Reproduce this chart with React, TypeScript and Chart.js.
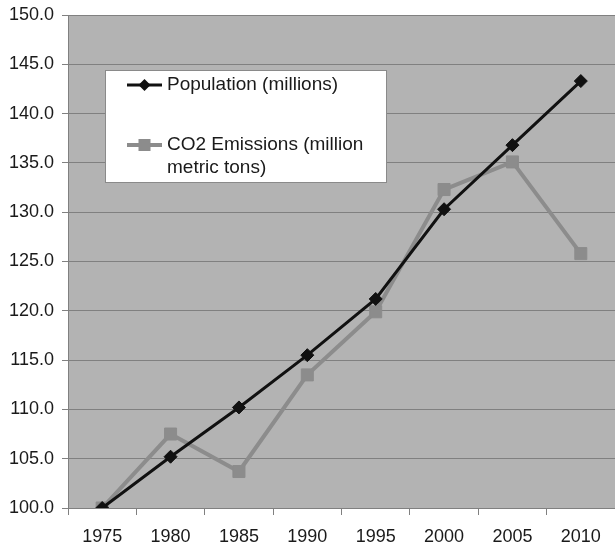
import React, { useEffect, useRef } from "react";
import { Chart, registerables } from "chart.js";

Chart.register(...registerables);

const years = ["1975", "1980", "1985", "1990", "1995", "2000", "2005", "2010"];
const population = [100.0, 105.2, 110.2, 115.5, 121.2, 130.3, 136.8, 143.3];
const co2Emissions = [100.0, 107.5, 103.7, 113.5, 119.9, 132.3, 135.1, 125.8];
const popLabel = "Population (millions)";
const co2LabelLines = ["CO2 Emissions (million", "metric tons)"];

const FONT = "'Liberation Sans', Arial, sans-serif";
const TEXT = "#1a1a1a";
const PLOT_BG = "#b3b3b3";
const GRID = "#808080";
const POP_COLOR = "#111111";
const CO2_COLOR = "#8c8c8c";

// Fills the plotting area with the grey backdrop
const plotBackground = {
  id: "plotBackground",
  beforeDraw(chart: any) {
    const { ctx, chartArea } = chart;
    ctx.save();
    ctx.fillStyle = PLOT_BG;
    ctx.fillRect(chartArea.left, chartArea.top, chartArea.right - chartArea.left, chartArea.bottom - chartArea.top);
    ctx.restore();
  },
};

// Boxed legend sitting inside the plot area
const insetLegend = {
  id: "insetLegend",
  afterDraw(chart: any) {
    const { ctx, chartArea } = chart;
    const x = chartArea.left + 37;
    const y = chartArea.top + 55;
    const w = 282;
    const h = 113;
    ctx.save();
    ctx.fillStyle = "#ffffff";
    ctx.fillRect(x, y, w, h);
    ctx.strokeStyle = "#8a8a8a";
    ctx.lineWidth = 1;
    ctx.strokeRect(x + 0.5, y + 0.5, w - 1, h - 1);

    const sx0 = x + 22;
    const sx1 = x + 57;
    const sxm = (sx0 + sx1) / 2;
    const tx = x + 62;

    // population entry
    const y1 = y + 15;
    ctx.strokeStyle = POP_COLOR;
    ctx.lineWidth = 3;
    ctx.beginPath();
    ctx.moveTo(sx0, y1);
    ctx.lineTo(sx1, y1);
    ctx.stroke();
    ctx.fillStyle = POP_COLOR;
    ctx.beginPath();
    ctx.moveTo(sxm, y1 - 6);
    ctx.lineTo(sxm + 6, y1);
    ctx.lineTo(sxm, y1 + 6);
    ctx.lineTo(sxm - 6, y1);
    ctx.closePath();
    ctx.fill();

    // CO2 entry
    const y2 = y + 75;
    ctx.strokeStyle = CO2_COLOR;
    ctx.lineWidth = 4;
    ctx.beginPath();
    ctx.moveTo(sx0, y2);
    ctx.lineTo(sx1, y2);
    ctx.stroke();
    ctx.fillStyle = CO2_COLOR;
    ctx.fillRect(sxm - 6, y2 - 6, 12, 12);

    ctx.fillStyle = TEXT;
    ctx.font = `19px ${FONT}`;
    ctx.textBaseline = "middle";
    ctx.textAlign = "left";
    ctx.fillText(popLabel, tx, y1);
    ctx.fillText(co2LabelLines[0], tx, y2);
    ctx.fillText(co2LabelLines[1], tx, y2 + 23);
    ctx.restore();
  },
};

export default function App() {
  const canvasRef = useRef<HTMLCanvasElement | null>(null);

  useEffect(() => {
    document.body.style.margin = "0";
    const canvas = canvasRef.current;
    if (!canvas) return;
    const chart = new Chart(canvas, {
      type: "line",
      data: {
        labels: years,
        datasets: [
          {
            label: popLabel,
            data: population,
            borderColor: POP_COLOR,
            backgroundColor: POP_COLOR,
            borderWidth: 3,
            pointStyle: "rectRot",
            pointRadius: 6.5,
            pointBorderWidth: 1,
            pointBackgroundColor: POP_COLOR,
            pointBorderColor: POP_COLOR,
            tension: 0,
            order: 1,
          },
          {
            label: co2LabelLines.join(" "),
            data: co2Emissions,
            borderColor: CO2_COLOR,
            backgroundColor: CO2_COLOR,
            borderWidth: 4,
            pointStyle: "rect",
            pointRadius: 8.5,
            pointBorderWidth: 1,
            pointBackgroundColor: CO2_COLOR,
            pointBorderColor: CO2_COLOR,
            tension: 0,
            order: 2,
          },
        ],
      },
      options: {
        animation: false,
        responsive: false,
        devicePixelRatio: 1,
        layout: { autoPadding: false, padding: { top: 15, right: 0, left: 0, bottom: 0 } },
        plugins: {
          legend: { display: false },
          tooltip: { enabled: false },
        },
        scales: {
          x: {
            type: "category",
            offset: true,
            afterFit(scale: any) {
              scale.height = 40;
              scale.paddingLeft = 0;
              scale.paddingRight = 0;
            },
            grid: {
              offset: true,
              drawOnChartArea: false,
              drawTicks: true,
              tickLength: 7,
              color: GRID,
            },
            border: { color: GRID, width: 1 },
            ticks: {
              color: TEXT,
              font: { family: FONT, size: 18 },
              padding: 11,
              maxRotation: 0,
            },
          },
          y: {
            min: 100,
            max: 150,
            afterFit(scale: any) {
              scale.width = 68;
              scale.paddingTop = 0;
              scale.paddingBottom = 0;
            },
            grid: {
              color: GRID,
              lineWidth: 1,
              tickLength: 6,
            },
            border: { color: GRID, width: 1 },
            ticks: {
              stepSize: 5,
              color: TEXT,
              font: { family: FONT, size: 18 },
              padding: 8,
              callback: (v: any) => Number(v).toFixed(1),
            },
          },
        },
      },
      plugins: [plotBackground, insetLegend],
    });
    return () => chart.destroy();
  }, []);

  return (
    <div style={{ width: 615, height: 548, background: "#ffffff" }}>
      <canvas ref={canvasRef} width={615} height={548} style={{ display: "block" }} />
    </div>
  );
}
